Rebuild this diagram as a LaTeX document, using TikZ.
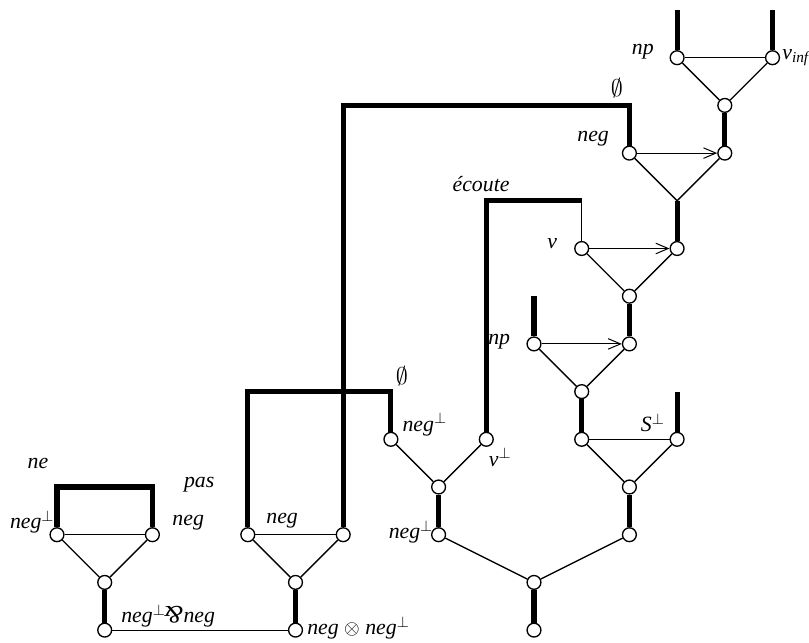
\documentclass[tikz,border=0pt]{standalone}
\usepackage{fontspec}
\setmainfont{Liberation Serif}
\usepackage{amssymb}
\usetikzlibrary{arrows.meta}

\begin{document}
\begin{tikzpicture}[
  dot/.style={circle, draw, fill=white, line width=0.8pt, minimum size=2.9mm, inner sep=0pt},
  ax/.style={line width=3pt},
  lk/.style={line width=0.8pt},
  tie/.style={line width=0.6pt},
  sig/.style={tie, -{Straight Barb[length=2.6mm, width=2.2mm]}},
  lbl/.style={font=\fontsize{13}{15}\selectfont\itshape, inner sep=0pt},
  nul/.style={font=\fontsize{15}{17}\selectfont, inner sep=0pt}
]

% Frame
\useasboundingbox (-1.195,-0.25) rectangle (15.765,13.21);

% ne
\node[dot] (a1) at (0,2) {};
\node[dot] (a2) at (2,2) {};
\node[dot] (a3) at (1,1) {};
\node[dot] (a4) at (1,0) {};
\coordinate (a0) at (1,3);

% pas
\node[dot] (b1) at (4,2) {};
\node[dot] (b2) at (6,2) {};
\node[dot] (b3) at (5,1) {};
\node[dot] (b4) at (5,0) {};
\coordinate (b0) at (5.5,5);
\coordinate (g0) at (9,11);

% neg^perp, v^perp
\node[dot] (c1) at (7,4) {};
\node[dot] (c2) at (9,4) {};
\node[dot] (c3) at (8,3) {};
\node[dot] (c4) at (8,2) {};
\coordinate (e0) at (11,9);

% bottom
\node[dot] (d1) at (10,1) {};
\node[dot] (d2) at (10,0) {};

% S^perp
\node[dot] (s1) at (11,4) {};
\node[dot] (s2) at (13,4) {};
\node[dot] (s3) at (12,3) {};
\node[dot] (s4) at (12,2) {};
\coordinate (s0) at (13,5);

% np
\node[dot] (p1) at (10,6) {};
\node[dot] (p2) at (12,6) {};
\node[dot] (p3) at (11,5) {};
\coordinate (p0) at (10,7);

% v
\node[dot] (v1) at (11,8) {};
\node[dot] (v2) at (13,8) {};
\node[dot] (v3) at (12,7) {};

% neg
\node[dot] (n1) at (12,10) {};
\node[dot] (n2) at (14,10) {};
\coordinate (n3) at (13,9);

% np, v_inf
\node[dot] (t1) at (13,12) {};
\node[dot] (t2) at (15,12) {};
\node[dot] (t3) at (14,11) {};
\coordinate (t0) at (13,13);
\coordinate (u0) at (15,13);

% Axioms
\draw[ax] (a1) |- (a0) -| (a2);
\draw[ax] (b1) |- (b0) -| (c1);
\draw[ax] (b2) |- (g0) -| (n1);
\draw[ax] (c2) |- (e0);
\draw[lk] (e0) -- (v1);
\draw[ax] (p1) -- (p0);
\draw[ax] (s2) -- (s0);
\draw[ax] (t1) -- (t0);
\draw[ax] (t2) -- (u0);

% Thick links
\draw[ax] (a3) -- (a4);
\draw[ax] (b3) -- (b4);
\draw[ax] (c3) -- (c4);
\draw[ax] (d1) -- (d2);
\draw[ax] (s3) -- (s4);
\draw[ax] (p3) -- (s1);
\draw[ax] (v3) -- (p2);
\draw[ax] (n3) -- (v2);
\draw[ax] (t3) -- (n2);

% Links
\draw[lk] (a1) -- (a3) -- (a2);
\draw[lk] (b1) -- (b3) -- (b2);
\draw[lk] (c1) -- (c3) -- (c2);
\draw[lk] (c4) -- (d1) -- (s4);
\draw[lk] (s1) -- (s3) -- (s2);
\draw[lk] (p1) -- (p3) -- (p2);
\draw[lk] (v1) -- (v3) -- (v2);
\draw[lk] (n1) -- (n3) -- (n2);
\draw[lk] (t1) -- (t3) -- (t2);
\draw[tie] (a1) -- (a2);
\draw[tie] (b1) -- (b2);
\draw[tie] (s1) -- (s2);
\draw[tie] (t1) -- (t2);
\draw[tie] (a4) -- (b4);
\draw[sig] (p1) -- (p2);
\draw[sig] (v1) -- (v2);
\draw[sig] (n1) -- (n2);

% Labels
\node[lbl] (l-ne) at (-0.4,3.49) {ne};
\node[lbl] (l-nea) at (-0.52,2.26) {neg$^{\perp}$};
\node[lbl] (l-neb) at (2.75,2.26) {neg};
\node[lbl] (l-pas) at (2.98,3.05) {pas};
\node[lbl] (l-pasb) at (4.72,2.3) {neg};
\node[lbl] (l-par) at (2.33,0.29) {neg$^{\perp}$\hspace{-1pt}\rotatebox[origin=c]{180}{\fontsize{15}{17}\selectfont\&}neg};
\node[lbl, anchor=west] (l-ten) at (5.24,0.04) {neg $\otimes$ neg$^{\perp}$};
\node[nul] (l-ea) at (7.23,5.33) {$\emptyset$};
\node[lbl] (l-ca) at (7.71,4.31) {neg$^{\perp}$};
\node[lbl] (l-cb) at (9.29,3.62) {v$^{\perp}$};
\node[lbl] (l-cc) at (7.42,2.05) {neg$^{\perp}$};
\node[lbl] (l-np) at (9.27,6.05) {np};
\node[lbl] (l-ec) at (8.89,9.35) {écoute};
\node[lbl] (l-v) at (10.38,8.1) {v};
\node[lbl] (l-neg) at (11.24,10.31) {neg};
\node[nul] (l-eb) at (11.74,11.36) {$\emptyset$};
\node[lbl] (l-npt) at (12.28,12.13) {np};
\node[lbl, anchor=west] (l-vinf) at (15.2,12.0) {v\textsubscript{inf}};
\node[lbl] (l-s) at (12.49,4.35) {S$^{\perp}$};

\end{tikzpicture}
\end{document}
